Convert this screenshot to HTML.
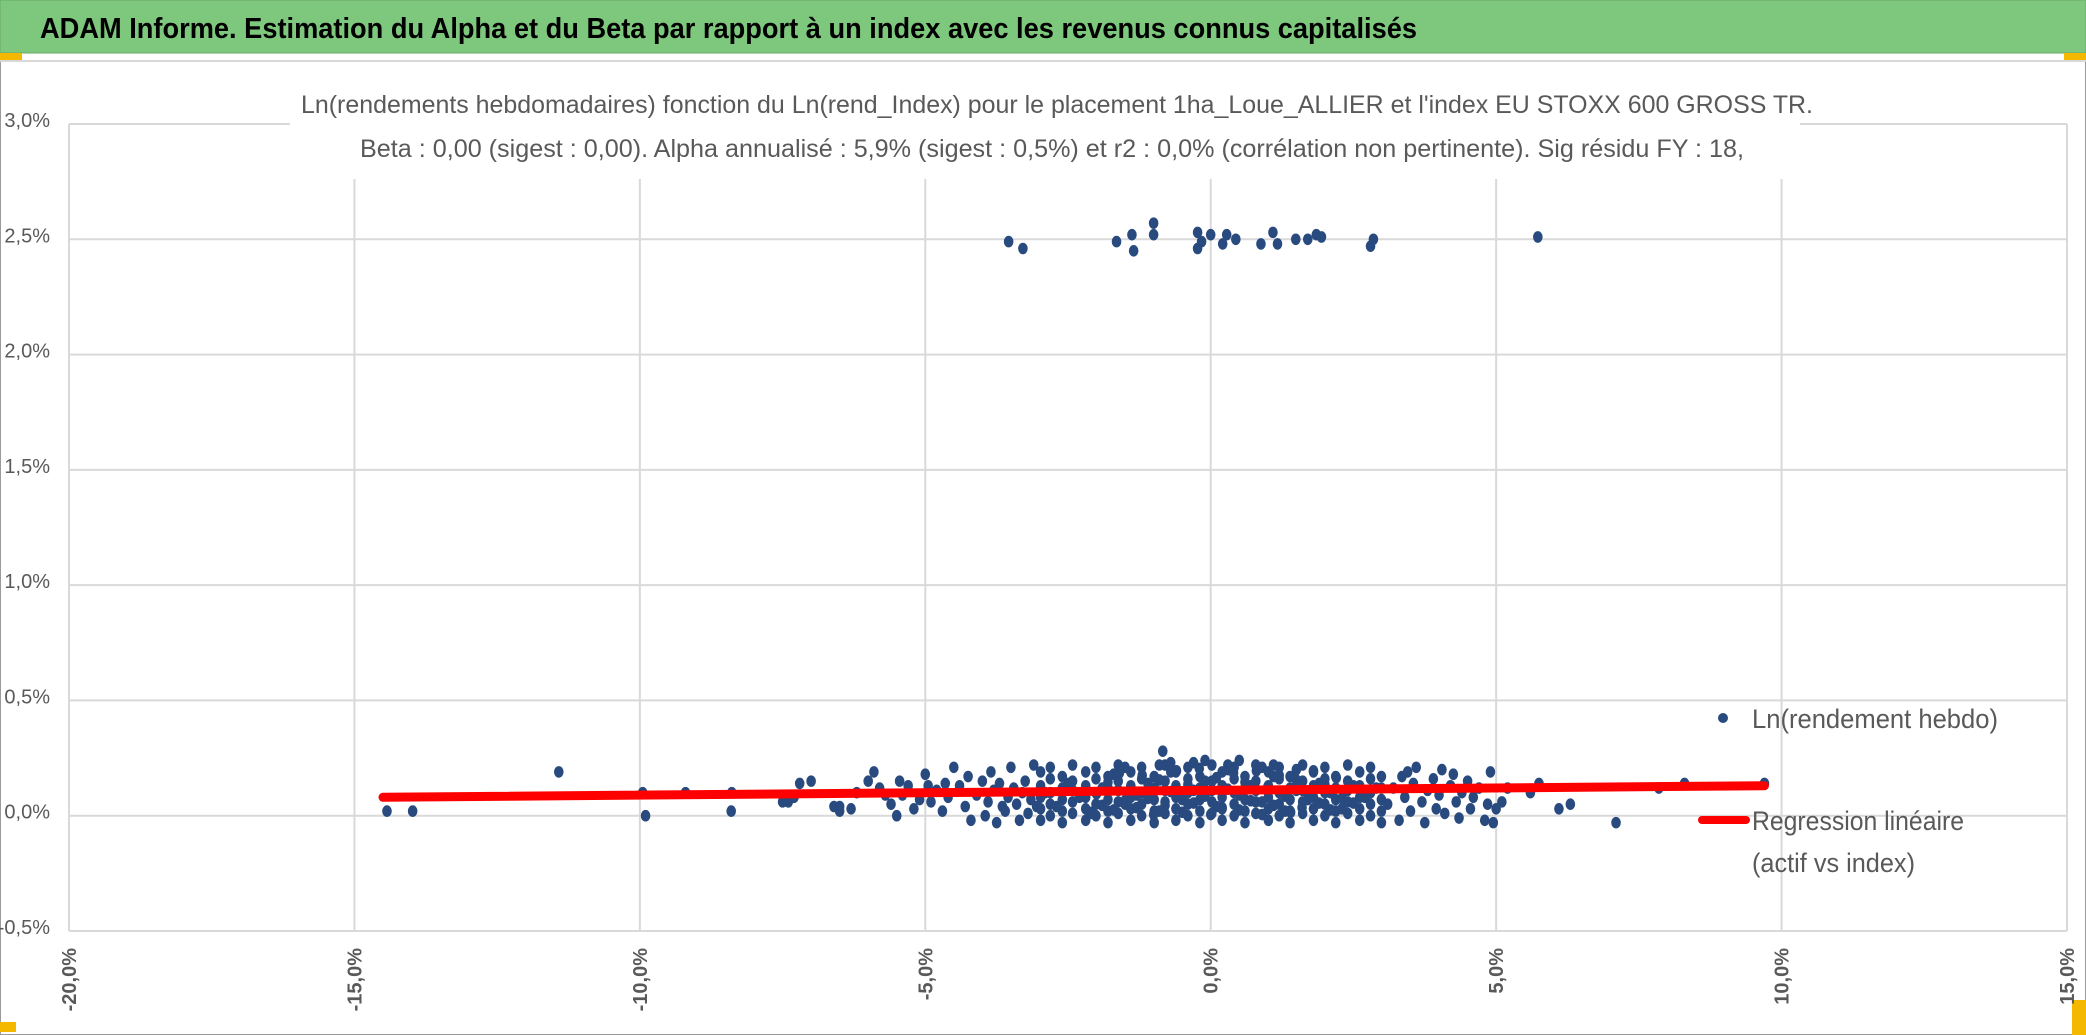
<!DOCTYPE html>
<html><head><meta charset="utf-8"><style>
html,body{margin:0;padding:0;background:#fff}
svg{display:block}
text{font-family:"Liberation Sans Narrow","Liberation Sans",sans-serif}
</style></head><body>
<svg id="chart" width="2086" height="1035" viewBox="0 0 2086 1035">
<rect x="0" y="0" width="2086" height="1035" fill="#fff"/>
<rect x="0.5" y="0.5" width="2085" height="1034" fill="none" stroke="#9a9a9a"/>
<rect x="0" y="0" width="2086" height="53" fill="#7dc87d" stroke="#6aa86a"/>
<text x="40" y="38" font-size="29" font-weight="bold" fill="#000" textLength="1377" lengthAdjust="spacingAndGlyphs">ADAM Informe. Estimation du Alpha et du Beta par rapport à un index avec les revenus connus capitalisés</text>
<rect x="0" y="53" width="22" height="7" fill="#f5b800"/>
<rect x="2064" y="53" width="22" height="7" fill="#f5b800"/>
<line x1="0" y1="61" x2="2086" y2="61" stroke="#d8d8d8" stroke-width="2"/>
<rect x="0" y="1022" width="16" height="10" fill="#f5b800"/>
<rect x="2072" y="1000" width="14" height="35" fill="#f5b800"/>
<g id="grid"></g>
<rect x="290" y="90" width="1510" height="89" fill="#fff"/>
<text x="1057" y="113" font-size="25" fill="#595959" text-anchor="middle" textLength="1512" lengthAdjust="spacingAndGlyphs">Ln(rendements hebdomadaires) fonction du Ln(rend_Index) pour le placement 1ha_Loue_ALLIER et l'index EU STOXX 600 GROSS TR.</text>
<text x="1052" y="157" font-size="25" fill="#595959" text-anchor="middle" textLength="1384" lengthAdjust="spacingAndGlyphs">Beta : 0,00 (sigest : 0,00). Alpha annualisé : 5,9% (sigest : 0,5%) et r2 : 0,0% (corrélation non pertinente). Sig résidu FY : 18,</text>
<g id="yticks"></g>
<g id="xticks"></g>
<g id="points"></g>
<g id="reg"></g>
<g>
<circle cx="1723" cy="718" r="5" fill="#284a7e"/>
<text x="1752" y="728" font-size="27" fill="#595959" textLength="246" lengthAdjust="spacingAndGlyphs">Ln(rendement hebdo)</text>
<line x1="1702" y1="820" x2="1746" y2="820" stroke="#ff0000" stroke-width="8" stroke-linecap="round"/>
<text x="1752" y="830" font-size="27" fill="#595959" textLength="212" lengthAdjust="spacingAndGlyphs">Regression linéaire</text>
<text x="1752" y="872" font-size="27" fill="#595959" textLength="163" lengthAdjust="spacingAndGlyphs">(actif vs index)</text>
</g>
</svg>
<script>
const xTicks=[-20,-15,-10,-5,0,5,10,15];
const xTickLabels=["-20,0%","-15,0%","-10,0%","-5,0%","0,0%","5,0%","10,0%","15,0%"];
const yTicks=[3.0,2.5,2.0,1.5,1.0,0.5,0.0,-0.5];
const yTickLabels=["3,0%","2,5%","2,0%","1,5%","1,0%","0,5%","0,0%","-0,5%"];
const regX=[-14.5,9.7];
const regY=[0.08,0.13];
const upperX=[-3.54,-3.29,-1.65,-1.38,-1.35,-1.0,-1.0,-0.23,-0.16,-0.23,0.0,0.21,0.28,0.44,0.88,1.09,1.17,1.49,1.70,1.85,1.94,2.80,2.85,5.73];
const upperY=[2.49,2.46,2.49,2.52,2.45,2.57,2.52,2.53,2.49,2.46,2.52,2.48,2.52,2.50,2.48,2.53,2.48,2.50,2.50,2.52,2.51,2.47,2.50,2.51];
const outerX=[-14.43,-13.98,-11.42,-9.95,-9.9,-9.2,-8.4,-8.39,-7.4,-7.2,-6.6,-6.5,5.0,5.2,5.75,6.1,6.3,7.1,7.85,8.3,9.7,5.1,5.6,-0.84];
const outerY=[0.02,0.02,0.19,0.10,0.0,0.10,0.02,0.10,0.06,0.14,0.04,0.02,0.03,0.12,0.14,0.03,0.05,-0.03,0.12,0.14,0.14,0.06,0.10,0.28];
const leftX=[-5.9,-5.8,-5.6,-5.5,-5.4,-5.3,-5.2,-5.1,-5.0,-4.9,-4.8,-4.7,-4.6,-4.5,-4.4,-4.3,-4.2,-4.1,-4.0,-3.95,-3.9,-3.8,-3.75,-3.7,-3.6,-3.55,-3.5,-3.45,-3.4,-3.35,-3.3,-3.25,-3.2,-3.15,-3.1,-3.05,-6.3,-6.5,-6.2,-7.3,-7.0,-7.5,-6.0,-5.7,-4.95,-4.25,-3.85,-3.65,-5.45,-4.65];
const leftY=[0.19,0.12,0.05,0.0,0.09,0.13,0.03,0.07,0.18,0.06,0.11,0.02,0.08,0.21,0.13,0.04,-0.02,0.09,0.15,0.0,0.06,0.11,-0.03,0.14,0.02,0.08,0.21,0.12,0.05,-0.02,0.1,0.15,0.01,0.07,0.22,0.04,0.03,0.04,0.10,0.08,0.15,0.06,0.15,0.09,0.13,0.17,0.19,0.04,0.15,0.14];
const coreX=[-2.98,-2.98,-2.98,-2.98,-2.98,-2.81,-2.81,-2.81,-2.81,-2.81,-2.6,-2.6,-2.6,-2.6,-2.6,-2.42,-2.42,-2.42,-2.42,-2.42,-2.19,-2.19,-2.19,-2.19,-2.19,-2.01,-2.01,-2.01,-2.01,-2.01,-1.8,-1.8,-1.8,-1.8,-1.8,-1.62,-1.62,-1.62,-1.62,-1.62,-1.4,-1.4,-1.4,-1.4,-1.4,-1.21,-1.21,-1.21,-1.21,-1.21,-0.99,-0.99,-0.99,-0.99,-0.99,-0.8,-0.8,-0.8,-0.8,-0.8,-0.61,-0.61,-0.61,-0.61,-0.61,-0.4,-0.4,-0.4,-0.4,-0.4,-0.19,-0.19,-0.19,-0.19,-0.19,0.02,0.02,0.02,0.02,0.02,0.2,0.2,0.2,0.2,0.2,0.41,0.41,0.41,0.41,0.41,0.6,0.6,0.6,0.6,0.6,0.79,0.79,0.79,0.79,0.79,1.01,1.01,1.01,1.01,1.01,1.2,1.2,1.2,1.2,1.2,1.39,1.39,1.39,1.39,1.39,1.61,1.61,1.61,1.61,1.61,1.8,1.8,1.8,1.8,1.8,2.0,2.0,2.0,2.0,2.0,2.19,2.19,2.19,2.19,2.19,2.4,2.4,2.4,2.4,2.4,2.61,2.61,2.61,2.61,2.61,2.8,2.8,2.8,2.8,2.8,2.99,2.99,2.99,2.99,2.99];
const coreY=[-0.02,0.03,0.08,0.13,0.19,0.0,0.05,0.10,0.16,0.21,-0.03,0.02,0.07,0.12,0.17,0.01,0.06,0.11,0.15,0.22,-0.02,0.03,0.08,0.13,0.19,0.0,0.05,0.10,0.16,0.21,-0.03,0.02,0.07,0.12,0.17,0.01,0.06,0.11,0.15,0.22,-0.02,0.03,0.08,0.13,0.19,0.0,0.05,0.10,0.16,0.21,-0.03,0.02,0.07,0.12,0.17,0.01,0.06,0.11,0.15,0.22,-0.02,0.03,0.08,0.13,0.19,0.0,0.05,0.10,0.16,0.21,-0.03,0.02,0.07,0.12,0.17,0.01,0.06,0.11,0.15,0.22,-0.02,0.03,0.08,0.13,0.19,0.0,0.05,0.10,0.16,0.21,-0.03,0.02,0.07,0.12,0.17,0.01,0.06,0.11,0.15,0.22,-0.02,0.03,0.08,0.13,0.19,0.0,0.05,0.10,0.16,0.21,-0.03,0.02,0.07,0.12,0.17,0.01,0.06,0.11,0.15,0.22,-0.02,0.03,0.08,0.13,0.19,0.0,0.05,0.10,0.16,0.21,-0.03,0.02,0.07,0.12,0.17,0.01,0.06,0.11,0.15,0.22,-0.02,0.03,0.08,0.13,0.19,0.0,0.05,0.10,0.16,0.21,-0.03,0.02,0.07,0.12,0.17];
const fillX=[-2.9,-2.7,-2.5,-2.3,-2.1,-1.9,-1.7,-1.5,-1.3,-1.1,-0.9,-0.7,-0.5,-0.3,-0.1,0.1,0.3,0.5,0.7,0.9,1.1,1.3,1.5,1.7,1.9,2.1,2.3,2.5,2.7,2.9,-1.5,-0.9,-0.3,0.3,0.9,1.5,-0.7,0.5,1.1,-0.1];
const fillY=[0.10,0.04,0.14,0.08,0.01,0.12,0.18,0.05,0.09,0.14,0.02,0.19,0.07,0.11,0.15,0.04,0.20,0.09,0.13,0.06,0.17,0.02,0.11,0.07,0.14,0.10,0.03,0.13,0.08,0.12,0.21,0.22,0.23,0.22,0.21,0.20,0.23,0.24,0.22,0.24];
const fill2X=[-2.1,-2.0,-1.9,-1.8,-1.7,-1.6,-1.5,-1.4,-1.3,-1.2,-1.1,-1.0,-0.9,-0.8,-0.7,-0.6,-0.5,-0.4,-0.3,-0.2,-0.1,0.0,0.1,0.2,0.3,0.4,0.5,0.6,0.7,0.8,0.9,1.0,1.1,1.2,1.3,1.4,1.5,1.6,1.7,1.8,1.9,2.0,2.1,2.2,2.3,2.5];
const fill2Y=[0.015,0.095,0.045,0.145,0.025,0.185,0.065,0.125,0.035,0.175,0.075,0.005,0.155,0.045,0.105,0.195,0.015,0.135,0.055,0.205,0.085,0.005,0.165,0.035,0.115,0.185,0.025,0.145,0.065,0.195,0.005,0.125,0.045,0.175,0.085,0.015,0.155,0.035,0.105,0.195,0.055,0.135,0.025,0.165,0.075,0.055];
const rightX=[3.1,3.2,3.3,3.35,3.4,3.5,3.55,3.6,3.7,3.75,3.8,3.9,3.95,4.0,4.05,4.1,4.2,4.3,4.35,4.4,4.5,4.55,4.6,4.7,4.8,4.85,4.9,4.95,3.45,4.25];
const rightY=[0.05,0.12,-0.02,0.17,0.08,0.02,0.14,0.21,0.06,-0.03,0.11,0.16,0.03,0.09,0.20,0.01,0.13,0.06,-0.01,0.10,0.15,0.03,0.08,0.12,-0.02,0.05,0.19,-0.03,0.19,0.18];

const NS="http://www.w3.org/2000/svg";
const X0=69,X1=2067,Y0=931,Y1=124;
function sx(v){return X0+(v+20)/35*(X1-X0);}
function sy(v){return Y0-(v+0.5)/3.5*(Y0-Y1);}
function mk(tag,attrs){const e=document.createElementNS(NS,tag);for(const k in attrs)e.setAttribute(k,attrs[k]);return e;}

const grid=document.getElementById('grid');
xTicks.forEach(t=>{
  const l=mk('line',{x1:sx(t),x2:sx(t),y1:Y1,y2:Y0,stroke:'#d9d9d9','stroke-width':2});
  
  
  grid.appendChild(l);
});
yTicks.forEach(t=>{
  const l=mk('line',{x1:X0,x2:X1,y1:sy(t),y2:sy(t),stroke:'#d9d9d9','stroke-width':2});
  
  
  grid.appendChild(l);
});
const yt=document.getElementById('yticks');
yTicks.forEach((t,i)=>{
  const e=mk('text',{x:50,y:sy(t)+3,'text-anchor':'end','font-size':20,fill:'#595959'});
  e.textContent=yTickLabels[i];
  
  
  yt.appendChild(e);
});
const xt=document.getElementById('xticks');
xTicks.forEach((t,i)=>{
  const x=sx(t)+7,y=948;
  const e=mk('text',{x:x,y:y,'text-anchor':'end','font-size':20,'font-weight':'bold',fill:'#595959',transform:'rotate(-90 '+x+' '+y+')'});
  e.textContent=xTickLabels[i];
  
  
  xt.appendChild(e);
});
const reg=document.getElementById('reg');
const rl=mk('line',{x1:sx(regX[0]),y1:sy(regY[0]),x2:sx(regX[1]),y2:sy(regY[1]),stroke:'#ff0000','stroke-width':9,'stroke-linecap':'round'});


reg.appendChild(rl);
const pts=document.getElementById('points');
function drawSet(xs,ys){
  xs.forEach((x,i)=>{
    const c=mk('ellipse',{cx:sx(x),cy:sy(ys[i]),rx:4.8,ry:5.8,fill:'#284a7e'});
    
    
    pts.appendChild(c);
  });
}
drawSet(coreX,coreY);drawSet(fillX,fillY);drawSet(fill2X,fill2Y);drawSet(leftX,leftY);drawSet(rightX,rightY);drawSet(outerX,outerY);drawSet(upperX,upperY);
</script>
</body></html>
